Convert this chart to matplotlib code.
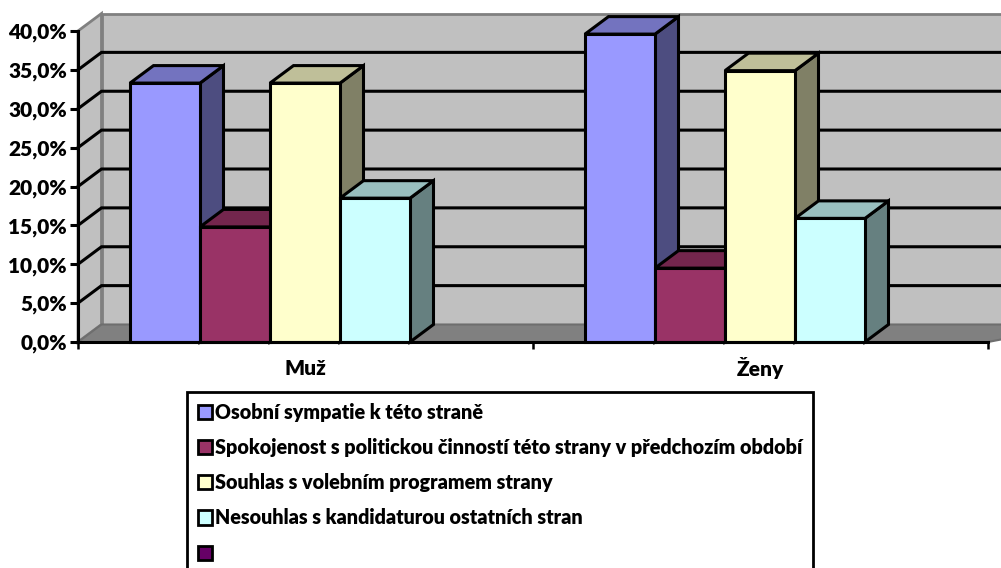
import matplotlib
matplotlib.use('Agg')
import matplotlib.pyplot as plt
import numpy as np
from matplotlib.patches import Polygon, Patch

plt.rcParams['font.family'] = ['Lato', 'DejaVu Sans']
plt.rcParams['font.weight'] = 'heavy'

categories = ['Muž', 'Ženy']
series_names = ['Osobní sympatie k této straně',
                'Spokojenost s politickou činností této strany v předchozím období',
                'Souhlas s volebním programem strany',
                'Nesouhlas s kandidaturou ostatních stran',
                ' ']
osobni = [33.3, 39.6]
spokojenost = [14.8, 9.5]
souhlas = [33.3, 34.9]
nesouhlas = [18.5, 15.9]
prazdna = [0, 0]
values = [osobni, spokojenost, souhlas, nesouhlas]
colors = ['#9999FF', '#993366', '#FFFFCC', '#CCFFFF', '#660066']
yticks = [0, 5, 10, 15, 20, 25, 30, 35, 40]

W, H = 1001, 568
fig = plt.figure(figsize=(W / 100, H / 100), dpi=100)
ax = fig.add_axes([78 / W, (H - 342) / H, 910 / W, 311 / H])
ax.set_xlim(0, 2)
ax.set_ylim(0, 40)
ax.patch.set_visible(False)

# depth of the fake 3d box, in data units
dx = 23.5 / 455
dy = 17.5 / 7.775
right = 2.2  # walls run off the picture


def poly(pts, fc, ec='k', lw=2.2, z=1):
    ax.add_patch(Polygon(pts, closed=True, facecolor=fc, edgecolor=ec, linewidth=lw,
                         joinstyle='miter', clip_on=False, zorder=z))


def shade(c, f):
    return tuple(np.array(matplotlib.colors.to_rgb(c)) * f)


# walls and floor
poly([(dx, dy), (right, dy), (right, 40 + dy), (dx, 40 + dy)], '#C0C0C0', '#808080', 2, 1)
poly([(0, 0), (dx, dy), (dx, 40 + dy), (0, 40)], '#C0C0C0', '#808080', 2, 1)
for t in yticks[1:-1]:
    ax.plot([0, dx, right], [t, t + dy, t + dy], color='k', lw=2.2, clip_on=False, zorder=2,
            solid_joinstyle='miter')
poly([(0, 0), (dx, dy), (right, dy), (2, 0)], '#808080', '#6E6E6E', 1.5, 3)

# bars, left to right so each front face covers the side of the one before
bw = 70 / 455
gap = 52 / 455
z = 4
for c in range(len(categories)):
    for s in range(len(values)):
        x0 = c + gap + s * bw
        v = values[s][c]
        col = colors[s]
        poly([(x0 + bw, 0), (x0 + bw + dx, dy), (x0 + bw + dx, v + dy), (x0 + bw, v)], shade(col, 0.5), z=z)
        poly([(x0, v), (x0 + dx, v + dy), (x0 + bw + dx, v + dy), (x0 + bw, v)], shade(col, 0.75), z=z)
        ax.bar(x0, v, bw, align='edge', color=col, edgecolor='k', linewidth=2.2, clip_on=False, zorder=z)
        z += 1

for sp in ['top', 'right']:
    ax.spines[sp].set_visible(False)
for sp in ['left', 'bottom']:
    ax.spines[sp].set_linewidth(2.2)
    ax.spines[sp].set_zorder(50)

ax.set_yticks(yticks)
ax.set_yticklabels([('%.1f%%' % t).replace('.', ',') for t in yticks], fontsize=15)
ax.tick_params(axis='y', length=6, width=2.2, pad=2)
ax.set_xticks([0, 1, 2])
ax.set_xticklabels(['', '', ''])
ax.tick_params(axis='x', which='major', length=5, width=1.8)
ax.set_xticks([0.5, 1.5], minor=True)
ax.set_xticklabels(categories, minor=True, fontsize=15)
ax.tick_params(axis='x', which='minor', length=0, pad=19)
for lab in ax.get_xticklabels(minor=True):
    lab.set_va('center')

handles = [Patch(facecolor=colors[i], edgecolor='k', linewidth=2) for i in range(5)]
leg = ax.legend(handles, series_names, loc='upper left', bbox_to_anchor=(187 / W, 1 - 392 / H),
                bbox_transform=fig.transFigure, borderaxespad=0, fontsize=14.2, fancybox=False,
                framealpha=1, edgecolor='k', handlelength=0.72, handleheight=0.72,
                handletextpad=0.15, labelspacing=0.82, borderpad=0.55)
leg.get_frame().set_linewidth(2)

fig.savefig('out.png', dpi=100)
